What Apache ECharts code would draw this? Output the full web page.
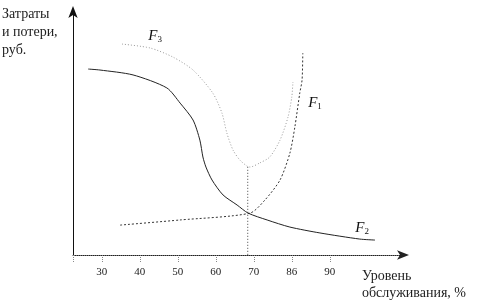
<!DOCTYPE html>
<html><head><meta charset="utf-8">
<script src="https://cdn.jsdelivr.net/npm/echarts@6/dist/echarts.min.js"></script>
<style>html,body{margin:0;padding:0;background:#fff}#c{width:480px;height:304px}</style>
</head><body><div id="c"></div>
<script>
// x in "service level, %", y in relative cost units (0..100)
var xTickValues = [30, 40, 50, 60, 70, 80, 90];
var xTickLabels = ['30', '40', '50', '60', '70', '86', '90'];
var f1Points = [[34.8,12.2],[50.6,14.3],[69.0,17.1],[72.9,22.4],[76.9,30.6],[79.5,41.6],[80.8,52.2],[82.1,66.1],[82.7,71.4],[82.9,82.4]];
var f2Points = [[26.4,75.9],[29.5,75.5],[38.2,73.5],[47.1,68.2],[50.6,62.0],[54.0,55.1],[55.8,46.9],[56.6,40.0],[57.4,35.9],[59.0,30.6],[61.9,24.5],[65.6,20.4],[68.5,17.1],[73.5,14.3],[79.5,11.4],[87.4,9.0],[97.9,6.5],[101.9,6.1]];
var f3Points = [[35.3,86.1],[42.7,84.5],[48.7,80.8],[54.0,75.5],[59.2,66.1],[61.6,58.0],[62.9,49.8],[64.5,42.9],[66.3,38.8],[68.2,36.3],[69.0,35.9],[71.6,37.6],[74.2,40.0],[76.9,46.9],[79.0,56.3],[80.0,64.5],[80.3,70.6]];
var optimumLine = [[68.4,36.0],[68.4,0]];
var curveNames = ['1', '2', '3'];
var labelAt = [[86.1,62.0],[98.5,11.0],[44.0,89.4]];

var serif = '"Liberation Serif","DejaVu Serif",serif';
function fLabel(i){
  return {symbol:'circle', symbolSize:1, itemStyle:{color:'rgba(0,0,0,0)'},
    data:[{coord:labelAt[i], value:curveNames[i]}],
    label:{show:true, position:'inside', formatter:'{f|F}{s|' + curveNames[i] + '}',
      rich:{f:{fontFamily:serif, fontStyle:'italic', fontSize:15, color:'#111'},
            s:{fontFamily:serif, fontSize:9, color:'#111', padding:[8,0,0,0]}}}};
}
var chart = echarts.init(document.getElementById('c'));
chart.setOption({
  animation:false,
  grid:{left:73, right:75, top:10, bottom:49},
  xAxis:{type:'value', min:22.4, max:109.8,
    axisLine:{show:true, onZero:false, symbol:['none','arrow'], symbolSize:[7,12], symbolOffset:[0,4],
      lineStyle:{color:'#222', type:'dotted', width:1}},
    axisTick:{show:true, inside:false, length:7, customValues:[22.4].concat(xTickValues), lineStyle:{color:'#888', type:'dotted'}},
    axisLabel:{customValues:xTickValues, margin:12, fontFamily:serif, fontSize:11, color:'#222',
      formatter:function(v){return xTickLabels[xTickValues.indexOf(v)];}},
    splitLine:{show:false}},
  yAxis:{type:'value', min:0, max:100,
    axisLine:{show:true, symbol:['none','arrow'], symbolSize:[7,12], symbolOffset:[0,4], lineStyle:{color:'#111', width:1}},
    axisTick:{show:false}, axisLabel:{show:false}, splitLine:{show:false}},
  graphic:[
    {type:'text', left:2, top:5, style:{text:'Затраты\nи потери,\nруб.', font:'14px ' + serif, lineHeight:18, fill:'#222'}},
    {type:'text', left:362, top:268, style:{text:'Уровень\nобслуживания, %', font:'14px ' + serif, lineHeight:17, fill:'#222'}}
  ],
  series:[
    {type:'line', data:f1Points, smooth:0.25, symbol:'none', lineStyle:{color:'#333', width:1, type:[2,2]}, markPoint:fLabel(0)},
    {type:'line', data:f2Points, smooth:0.25, symbol:'none', lineStyle:{color:'#222', width:1}, markPoint:fLabel(1)},
    {type:'line', data:f3Points, smooth:0.25, symbol:'none', lineStyle:{color:'#999', width:1, type:[1,2]}, markPoint:fLabel(2)},
    {type:'line', data:optimumLine, symbol:'none', lineStyle:{color:'#444', width:1, type:[1,2]}}
  ]
});
</script></body></html>
